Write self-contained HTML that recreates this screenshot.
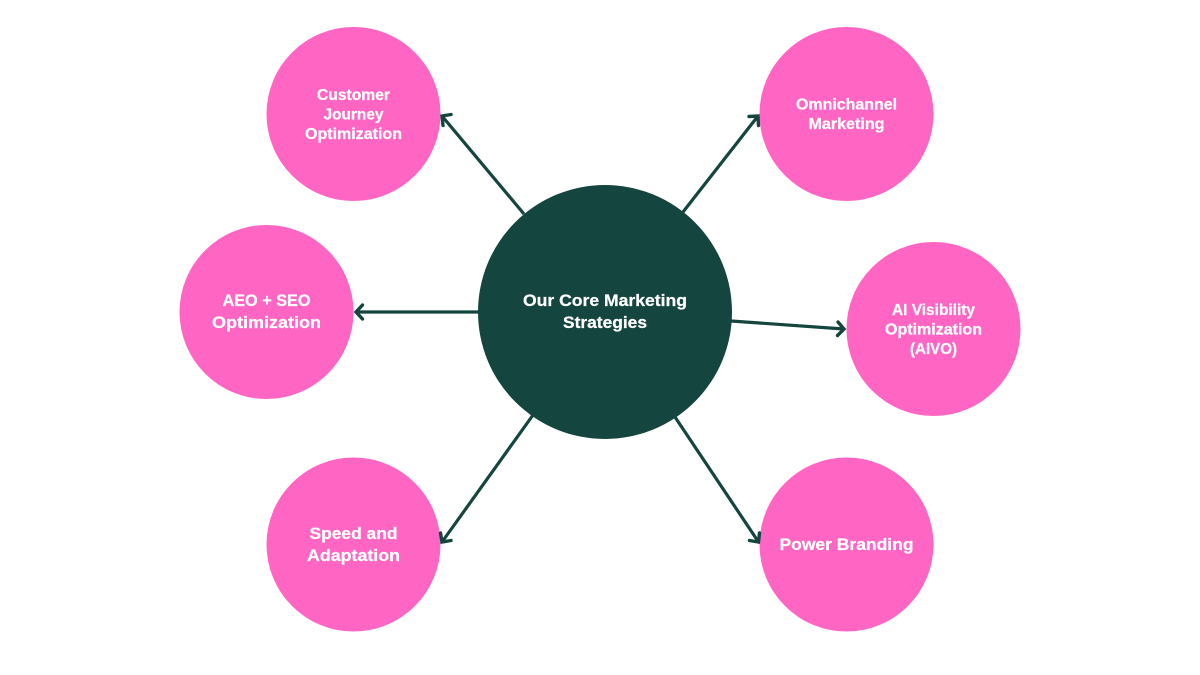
<!DOCTYPE html>
<html>
<head>
<meta charset="utf-8">
<style>
html,body{margin:0;padding:0;background:#fff;width:1200px;height:675px;overflow:hidden}
svg{display:block}
text{font-family:"Liberation Sans",sans-serif;font-weight:700;fill:#fff;text-anchor:middle}
.s{font-size:15.5px;stroke:#fff;stroke-width:.25px}
.m{font-size:17px;stroke:#fff;stroke-width:.25px}
.l{stroke:#14453f;stroke-width:3.2px;fill:none;stroke-linecap:butt}
.h{stroke:#14453f;stroke-width:3.4px;fill:none;stroke-linecap:round;stroke-linejoin:miter}
</style>
</head>
<body>
<svg width="1200" height="675" viewBox="0 0 1200 675" xmlns="http://www.w3.org/2000/svg">
<rect width="1200" height="675" fill="#fff"/>
<circle cx="353.5" cy="114" r="87" fill="#ff66c4"/>
<circle cx="846.5" cy="114" r="87" fill="#ff66c4"/>
<circle cx="266.5" cy="312" r="87" fill="#ff66c4"/>
<circle cx="933.5" cy="329" r="87" fill="#ff66c4"/>
<circle cx="353.5" cy="544.5" r="87" fill="#ff66c4"/>
<circle cx="846.5" cy="544.5" r="87" fill="#ff66c4"/>
<circle cx="605" cy="312" r="127" fill="#14453f"/>

<path class="l" d="M524 214L442 116"/>
<path class="h" d="M451 114.5L442 116L443 125.5"/>
<path class="l" d="M683 212L758 116"/>
<path class="h" d="M749 116.5L758 116L758.5 125.5"/>
<path class="l" d="M479 312L356 312"/>
<path class="h" d="M362.5 305L356 312L362.5 319"/>
<path class="l" d="M731 321L844 329"/>
<path class="h" d="M838 322L844 329L837.5 335.5"/>
<path class="l" d="M533 415L442 542"/>
<path class="h" d="M440.5 533L442 542L451 540.5"/>
<path class="l" d="M675 417L758.5 542"/>
<path class="h" d="M749.5 540.5L758.5 542L759.5 533"/>

<text class="m" x="605" y="306" textLength="164" lengthAdjust="spacingAndGlyphs">Our Core Marketing</text>
<text class="m" x="605" y="328" textLength="84" lengthAdjust="spacingAndGlyphs">Strategies</text>

<text class="s" x="353.5" y="100" textLength="73" lengthAdjust="spacingAndGlyphs">Customer</text>
<text class="s" x="353.5" y="119.5" textLength="60" lengthAdjust="spacingAndGlyphs">Journey</text>
<text class="s" x="353.5" y="139" textLength="97" lengthAdjust="spacingAndGlyphs">Optimization</text>

<text class="s" x="846.5" y="109.5" textLength="101" lengthAdjust="spacingAndGlyphs">Omnichannel</text>
<text class="s" x="846.5" y="129" textLength="76" lengthAdjust="spacingAndGlyphs">Marketing</text>

<text class="m" x="266.5" y="306" textLength="88" lengthAdjust="spacingAndGlyphs">AEO + SEO</text>
<text class="m" x="266.5" y="328" textLength="109" lengthAdjust="spacingAndGlyphs">Optimization</text>

<text class="s" x="933.5" y="315" textLength="83" lengthAdjust="spacingAndGlyphs">AI Visibility</text>
<text class="s" x="933.5" y="334.5" textLength="97" lengthAdjust="spacingAndGlyphs">Optimization</text>
<text class="s" x="933.5" y="354" textLength="47" lengthAdjust="spacingAndGlyphs">(AIVO)</text>

<text class="m" x="353.5" y="539" textLength="88" lengthAdjust="spacingAndGlyphs">Speed and</text>
<text class="m" x="353.5" y="561" textLength="93" lengthAdjust="spacingAndGlyphs">Adaptation</text>

<text class="m" x="846.5" y="550" textLength="134" lengthAdjust="spacingAndGlyphs">Power Branding</text>
</svg>
</body>
</html>
